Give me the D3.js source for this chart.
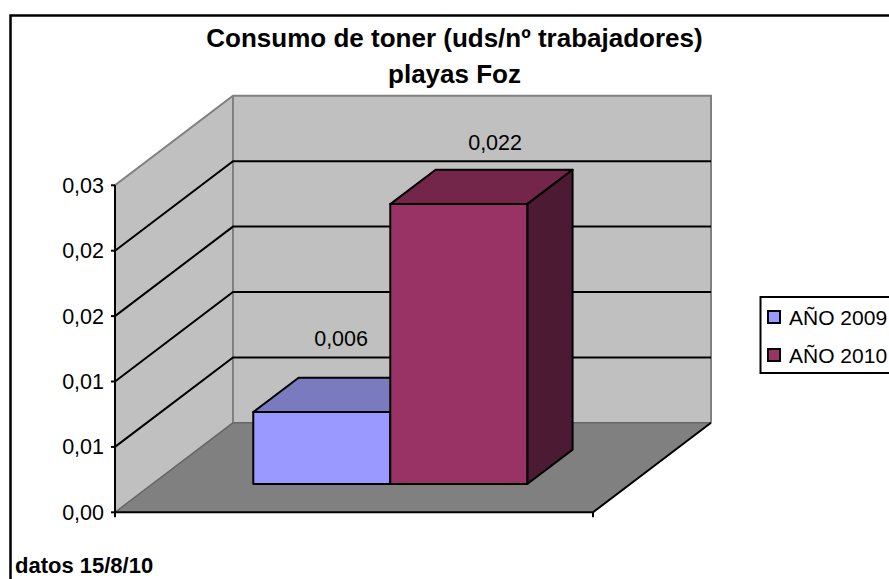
<!DOCTYPE html>
<html><head><meta charset="utf-8">
<script src="https://cdn.jsdelivr.net/npm/d3@7"></script>
<style>html,body{margin:0;background:#fff}svg{display:block}text{font-family:"Liberation Sans",Arial,sans-serif;fill:#000}</style>
</head><body><svg id="c" width="889" height="579"></svg>
<script>
const titleLines=["Consumo de toner (uds/nº trabajadores)","playas Foz"];
const footnote="datos 15/8/10";
const series=["AÑO 2009","AÑO 2010"];
const values=[0.0055,0.0214];
const valueLabels=["0,006","0,022"];
const colors=["#9999ff","#993366"];
const topColors=["#7a7abf","#732649"];
const sideColors=["#5c5c99","#4d1a33"];
const yTicks=[0,0.005,0.01,0.015,0.02,0.025];
const yTickLabels=["0,00","0,01","0,01","0,02","0,02","0,03"];

const svg=d3.select("#c");
const x=d3.scaleBand().domain(series).range([115,593]).paddingInner(0).paddingOuter(0.7445).align(0.495);
const y=d3.scaleLinear().domain([0,0.025]).range([512.3,185.3]);
const dx=d3.scaleLinear().domain([0,1]).range([0,118]);
const dy=d3.scaleLinear().domain([0,1]).range([0,-89.5]);
const P=(px,py,z)=>[px+dx(z),py+dy(z)];
const poly=pts=>"M"+pts.map(p=>p.join(",")).join("L")+"Z";
const [x0,x1]=x.range(), y0=y(0), y1=y(0.025);
const line=(pts,color,w)=>svg.append("path").attr("fill","none").attr("stroke",color).attr("stroke-width",w).attr("d",d3.line()(pts));

// frame
line([[10.5,579],[10.5,15.5],[889,15.5]],"#000",2.5);

// walls and floor
svg.append("path").attr("d",poly([P(x0,y0,0),P(x0,y1,0),P(x0,y1,1),P(x0,y0,1)])).attr("fill","#c0c0c0");
svg.append("path").attr("d",poly([P(x0,y0,1),P(x0,y1,1),P(x1,y1,1),P(x1,y0,1)])).attr("fill","#c0c0c0");
svg.append("path").attr("d",poly([P(x0,y0,0),P(x1,y0,0),P(x1,y0,1),P(x0,y0,1)])).attr("fill","#808080");
// wall edges
line([P(x0,y0,0),P(x0,y1,0),P(x0,y1,1),P(x1,y1,1),P(x1,y0,1)],"#808080",2);
line([P(x0,y0,1),P(x0,y1,1)],"#808080",2);
line([P(x0,y0,0),P(x0,y0,1),P(x1,y0,1)],"#666",1.5);

// gridlines
yTicks.slice(1,-1).forEach(t=>line([P(x0,y(t),0),P(x0,y(t),1),P(x1,y(t),1)],"#000",2));

// axes
line([[x0,y1],[x0,y0]],"#000",2);
line([[x0,y0],[x1,y0],P(x1,y0,1)],"#000",2);
line([[x1,y0],[x1,y0+5]],"#000",2);
line([[x0,y0],[x0,y0+5]],"#000",2);
yTicks.forEach((t,i)=>{
  line([[x0-4,y(t)],[x0,y(t)]],"#000",2);
  svg.append("text").attr("x",104).attr("y",y(t)+7.5).attr("text-anchor","end").attr("font-size",21.5).text(yTickLabels[i]);
});

// bars
const zF=0.316, zB=0.7;
series.forEach((s,i)=>{
  const a=x(s), b=a+x.bandwidth(), t=y(values[i]);
  const g=svg.append("g").attr("fill",colors[i]).attr("stroke","#000").attr("stroke-width",2).attr("stroke-linejoin","round");
  g.append("path").attr("d",poly([P(a,t,zF),P(b,t,zF),P(b,t,zB),P(a,t,zB)])).attr("fill",topColors[i]);
  g.append("path").attr("d",poly([P(b,y0,zF),P(b,y0,zB),P(b,t,zB),P(b,t,zF)])).attr("fill",sideColors[i]);
  g.append("path").attr("d",poly([P(a,y0,zF),P(b,y0,zF),P(b,t,zF),P(a,t,zF)]));
});
// value labels
const labelShiftX=[-26,-9], labelShiftY=[-32,-20];
series.forEach((s,i)=>{
  const m=P(x(s)+x.bandwidth()/2,y(values[i]),zB);
  svg.append("text").attr("x",m[0]+labelShiftX[i]).attr("y",m[1]+labelShiftY[i]).attr("text-anchor","middle").attr("font-size",21.5).text(valueLabels[i]);
});

// title
titleLines.forEach((l,i)=>svg.append("text").attr("x",454.5).attr("y",47+i*36).attr("text-anchor","middle")
  .attr("font-size",26).attr("font-weight","bold").text(l));
svg.append("text").attr("x",15).attr("y",573).attr("font-size",22).attr("font-weight","bold").text(footnote);

// legend
svg.append("rect").attr("x",760.5).attr("y",297).attr("width",140).attr("height",76).attr("fill","#fff").attr("stroke","#000").attr("stroke-width",2);
series.forEach((s,i)=>{
  const yy=311+i*38;
  svg.append("rect").attr("x",768).attr("y",yy).attr("width",12).attr("height",12).attr("fill",colors[i]).attr("stroke","#000").attr("stroke-width",2);
  svg.append("text").attr("x",789).attr("y",yy+14).attr("font-size",21).text(s);
});
</script></body></html>
